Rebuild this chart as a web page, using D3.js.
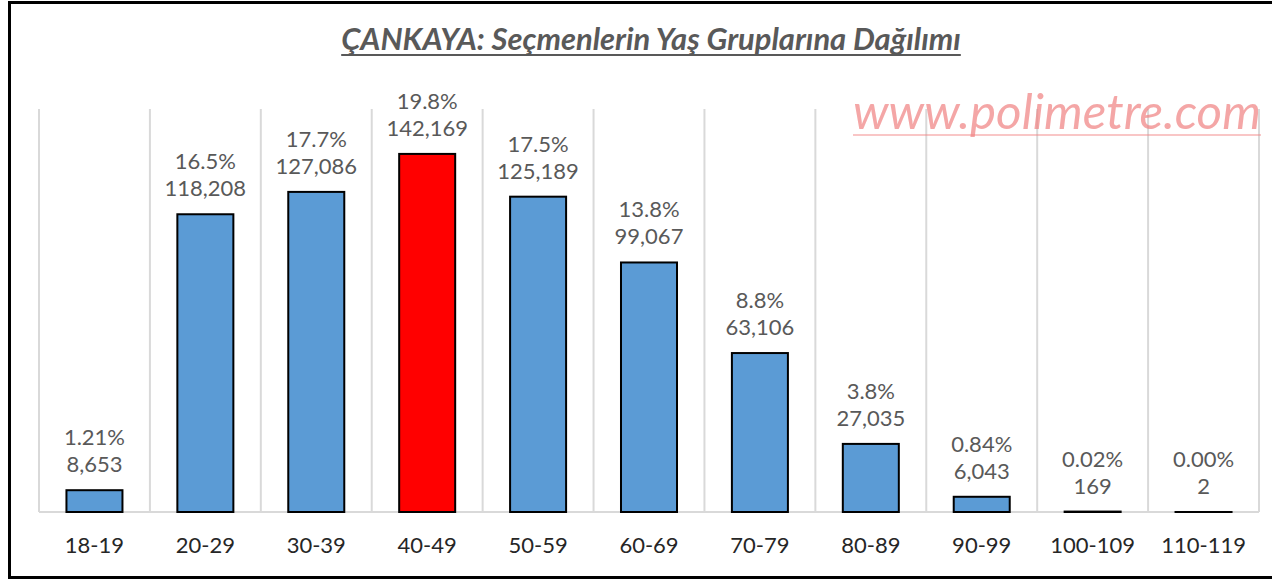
<!DOCTYPE html>
<html>
<head>
<meta charset="utf-8">
<script src="https://cdn.jsdelivr.net/npm/d3@7"></script>
<style>
html,body{margin:0;padding:0;background:#fff;}
svg{display:block;font-family:Lato,"Open Sans",sans-serif;}
</style>
</head>
<body>
<svg id="chart" width="1272" height="582"></svg>
<script>
const categories = ["18-19","20-29","30-39","40-49","50-59","60-69","70-79","80-89","90-99","100-109","110-119"];
const voters = [8653,118208,127086,142169,125189,99067,63106,27035,6043,169,2];
const percentLabels = ["1.21%","16.5%","17.7%","19.8%","17.5%","13.8%","8.8%","3.8%","0.84%","0.02%","0.00%"];
const highlight = "40-49";
const titleText = "ÇANKAYA: Seçmenlerin Yaş Gruplarına Dağılımı";
const watermark = "www.polimetre.com";

(function(){
const svg = d3.select("#chart");
const pLeft = 39, pRight = 1259, pTop = 109, pBottom = 512;

const x = d3.scaleBand().domain(categories).range([pLeft, pRight]).paddingInner(0.495).paddingOuter(0.2475);
const y = d3.scaleLinear().domain([0, 160000]).range([pBottom, pTop]);

// outer border
svg.append("rect").attr("x", 9.5).attr("y", 2.5).attr("width", 1290).attr("height", 575)
  .attr("fill", "none").attr("stroke", "#000").attr("stroke-width", 3);

// vertical gridlines (category boundaries)
const bounds = d3.range(categories.length + 1).map(i => pLeft + i * (pRight - pLeft) / categories.length);
svg.append("g").selectAll("line").data(bounds).join("line")
  .attr("x1", d => d).attr("x2", d => d).attr("y1", pTop).attr("y2", pBottom)
  .attr("stroke", "#d9d9d9").attr("stroke-width", 2);
svg.append("line").attr("x1", pLeft).attr("x2", pRight).attr("y1", pBottom).attr("y2", pBottom)
  .attr("stroke", "#d9d9d9").attr("stroke-width", 2);

// bars
svg.append("g").selectAll("rect").data(categories).join("rect")
  .attr("x", d => x(d))
  .attr("width", x.bandwidth())
  .attr("y", (d, i) => y(voters[i]))
  .attr("height", (d, i) => pBottom - y(voters[i]))
  .attr("fill", d => d === highlight ? "#ff0000" : "#5b9bd5")
  .attr("stroke", "#000").attr("stroke-width", 2);

// value labels
const lab = svg.append("g").attr("font-size", 22).attr("fill", "#595959").attr("text-anchor", "middle");
categories.forEach((c, i) => {
  const cx = x(c) + x.bandwidth() / 2;
  const yt = y(voters[i]);
  lab.append("text").attr("x", cx).attr("y", yt - 45).text(percentLabels[i]);
  lab.append("text").attr("x", cx).attr("y", yt - 18).text(d3.format(",")(voters[i]));
});

// axis
const axis = svg.append("g").attr("transform", `translate(0,${pBottom})`)
  .call(d3.axisBottom(x).tickSize(0).tickPadding(25));
axis.select(".domain").remove();
axis.selectAll("text").attr("font-size", 22).attr("fill", "#262626").attr("font-family", "Lato,'Open Sans',sans-serif");

// title
const t = svg.append("text").attr("x", 651).attr("y", 50).attr("text-anchor", "middle")
  .attr("font-size", 24).attr("font-style", "italic").attr("font-weight", 700)
  .attr("fill", "#595959").text(titleText);
let tw = t.node().getComputedTextLength();
t.attr("font-size", 24 * 620 / tw);
tw = t.node().getComputedTextLength();
svg.append("line").attr("x1", 651 - tw / 2).attr("x2", 651 + tw / 2).attr("y1", 55).attr("y2", 55)
  .attr("stroke", "#595959").attr("stroke-width", 2);

// watermark
const w = svg.append("text").attr("x", 853).attr("y", 129)
  .attr("font-size", 38).attr("font-style", "italic")
  .attr("fill", "#f08080").attr("fill-opacity", 0.7).text(watermark);
let ww = w.node().getComputedTextLength();
w.attr("font-size", 38 * 408 / ww);
ww = w.node().getComputedTextLength();
svg.append("line").attr("x1", 853).attr("x2", 853 + ww).attr("y1", 135).attr("y2", 135)
  .attr("stroke", "#f08080").attr("stroke-opacity", 0.6).attr("stroke-width", 1.5);
})();
</script>
</body>
</html>
